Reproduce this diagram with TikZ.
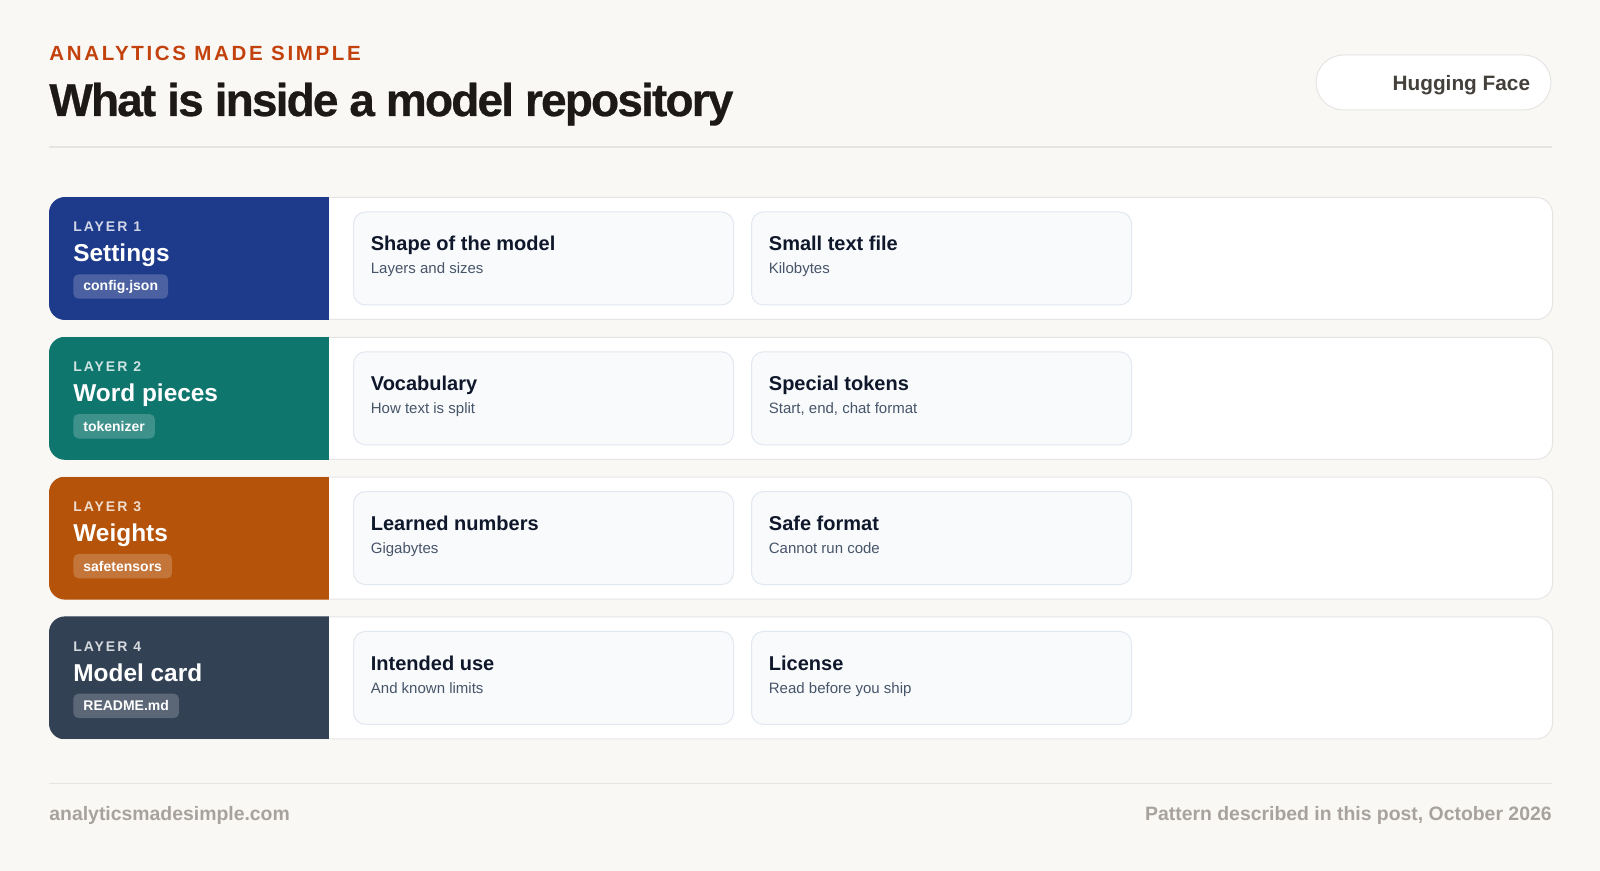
\documentclass[tikz,border=0pt]{standalone}
\usepackage{fontspec}
\setmainfont{Liberation Sans}
\usetikzlibrary{positioning}
\definecolor{paper}{RGB}{249,248,245}
\definecolor{rust}{RGB}{194,65,12}
\definecolor{ink}{RGB}{28,25,23}
\definecolor{hair}{RGB}{231,229,228}
\definecolor{navy}{RGB}{30,58,138}
\definecolor{sea}{RGB}{15,118,110}
\definecolor{ember}{RGB}{180,83,9}
\definecolor{slate}{RGB}{51,65,85}
\definecolor{cardbg}{RGB}{248,250,252}
\definecolor{cardline}{RGB}{226,232,240}
\definecolor{cardink}{RGB}{15,23,42}
\definecolor{cardsub}{RGB}{71,85,105}
\definecolor{muted}{RGB}{168,162,158}
\definecolor{pillink}{RGB}{68,64,60}
\tikzset{
  band/.style={draw=hair,line width=0.5pt,fill=white,rounded corners=8pt,
    minimum width=751.5pt,minimum height=61pt,inner sep=0pt},
  card/.style={draw=cardline,line width=0.5pt,fill=cardbg,rounded corners=6pt,
    minimum width=190pt,minimum height=46.5pt,inner sep=0pt},
  cardtitle/.style={text=cardink,inner sep=0pt,font=\fontsize{10}{12}\selectfont\bfseries},
  cardsub/.style={text=cardsub,inner sep=0pt,font=\fontsize{7.5}{9}\selectfont},
  layertag/.style={text=white,text opacity=0.8,inner sep=0pt,
    font=\fontsize{7}{8}\selectfont\bfseries\addfontfeatures{LetterSpace=14}},
  layername/.style={text=white,inner sep=0pt,font=\fontsize{12.2}{14}\selectfont\bfseries},
  badge/.style={fill=white,fill opacity=0.2,text opacity=1,text=white,rounded corners=2.5pt,
    inner xsep=5pt,inner ysep=0pt,minimum height=12.2pt,font=\fontsize{7}{8}\selectfont\bfseries},
  pill/.style={draw=hair,line width=0.5pt,fill=white,rounded corners=13.75pt,
    minimum width=117.5pt,minimum height=27.5pt,inner sep=0pt},
  foot/.style={text=muted,inner sep=0pt,font=\fontsize{9.7}{11}\selectfont\bfseries},
}

\begin{document}
\begin{tikzpicture}[x=1pt,y=-1pt]
  \fill[paper] (0,0) rectangle (800,435.5);
  \useasboundingbox (0,0) rectangle (800,435.5);
  % header
  \node[anchor=base west,inner sep=0pt,text=rust,
    font=\fontsize{10.25}{12}\selectfont\bfseries\addfontfeatures{LetterSpace=13}] (brand) at (24.5,30.35) {ANALYTICS MADE SIMPLE};
  \node[anchor=base west,inner sep=0pt,text=ink,
    font=\fontsize{23}{26}\selectfont\bfseries\addfontfeatures{LetterSpace=-4,FakeBold=0.6}] (title) at (24.5,58) {What is inside a model repository};
  \node[pill] (hf) at (716.75,41.25) {};
  \node[anchor=base east,inner sep=0pt,text=pillink,font=\fontsize{10.4}{12}\selectfont\bfseries]
    (hftext) at ([shift={(-10.5pt,-4.25pt)}]hf.east) {Hugging Face};
  \draw[hair,line width=0.75pt] (24.5,73.5) -- (776,73.5);
  % the four layers
  \foreach \i/\col/\name/\file/\ta/\sa/\tb/\sb in {
      1/navy/Settings/config.json/Shape of the model/Layers and sizes/Small text file/Kilobytes,
      2/sea/Word pieces/tokenizer/Vocabulary/How text is split/Special tokens/{Start, end, chat format},
      3/ember/Weights/safetensors/Learned numbers/Gigabytes/Safe format/Cannot run code,
      4/slate/Model card/README.md/Intended use/And known limits/License/Read before you ship}{
    \pgfmathsetmacro\t{98.5+69.9*(\i-1)}
    \node[band,anchor=north west] (band\i) at (24.5,\t) {};
    \begin{scope}
      \clip[rounded corners=8pt] (band\i.north west) rectangle (band\i.south east);
      \fill[\col] (band\i.north west) rectangle ([xshift=140pt]band\i.south west);
    \end{scope}
    \node[layertag,anchor=base west] (tag\i) at ([shift={(12pt,-17.35pt)}]band\i.north west) {LAYER \i};
    \node[layername,anchor=base west] (name\i) at ([shift={(12pt,-32.35pt)}]band\i.north west) {\name};
    \node[badge,anchor=west] (file\i) at ([shift={(12pt,-44.75pt)}]band\i.north west) {\file};
    \node[card,anchor=north west] (ca\i) at ([shift={(152pt,-7.25pt)}]band\i.north west) {};
    \node[card,right=8.5pt of ca\i] (cb\i) {};
    \node[cardtitle,anchor=base west] (ta\i) at ([shift={(8.75pt,-19.6pt)}]ca\i.north west) {\ta};
    \node[cardsub,anchor=base west] (sa\i) at ([shift={(8.75pt,-31.25pt)}]ca\i.north west) {\sa};
    \node[cardtitle,anchor=base west] (tb\i) at ([shift={(8.75pt,-19.6pt)}]cb\i.north west) {\tb};
    \node[cardsub,anchor=base west] (sb\i) at ([shift={(8.75pt,-31.25pt)}]cb\i.north west) {\sb};
  }
  % footer
  \draw[hair,line width=0.6pt] (24.5,391.65) -- (776,391.65);
  \node[foot,anchor=base west] (site) at (24.5,410) {analyticsmadesimple.com};
  \node[foot,anchor=base east] (note) at (776,410) {Pattern described in this post, October 2026};
\end{tikzpicture}
\end{document}
